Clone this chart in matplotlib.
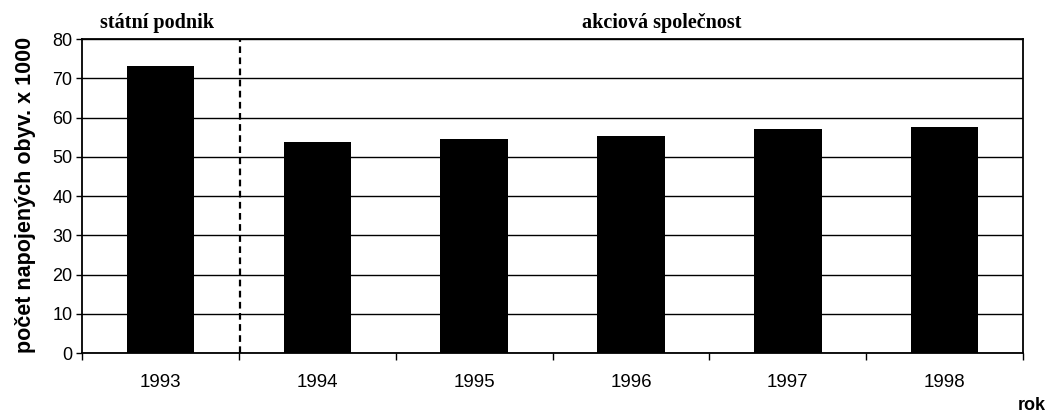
import matplotlib.pyplot as plt
import numpy as np

# data
roky = ['1993', '1994', '1995', '1996', '1997', '1998']
obyvatele = [73.1, 53.8, 54.5, 55.3, 57.1, 57.6]  # tisíce napojených obyvatel
y_ticks = [0, 10, 20, 30, 40, 50, 60, 70, 80]

plt.rcParams['font.family'] = ['Liberation Sans', 'DejaVu Sans']
serif = ['Liberation Serif', 'DejaVu Serif']

fig = plt.figure(figsize=(10.52, 4.16), dpi=100)
ax = fig.add_axes([0.078, 0.1514, 0.8945, 0.7548])

x = np.arange(len(roky))
ax.bar(x, obyvatele, width=0.43, color='black', zorder=3)

ax.set_xlim(-0.5, len(roky) - 0.5)
ax.set_ylim(0, 80)
ax.set_yticks(y_ticks)
ax.set_yticklabels([str(v) for v in y_ticks], fontsize=13)

# category labels centred, ticks on the category boundaries
ax.set_xticks(x)
ax.set_xticklabels(roky, fontsize=13.5)
ax.tick_params(axis='x', length=0, pad=15)
ax.set_xticks(np.arange(-0.5, len(roky)), minor=True)
ax.tick_params(axis='x', which='minor', length=5, direction='out', width=1)
ax.tick_params(axis='y', length=4, width=1, direction='out', pad=3)

ax.grid(axis='y', color='black', linewidth=1, zorder=1)
for s in ax.spines.values():
    s.set_color('black')
    s.set_linewidth(1.3)

# separator between state enterprise and joint-stock company
ax.axvline(0.51, color='black', linestyle=(0, (3, 2)), linewidth=1.6, zorder=4)

ax.set_ylabel('počet napojených obyv. x 1000', fontsize=15.5, fontweight='bold')
ax.yaxis.set_label_coords(-0.049, 0.505)
fig.text(0.967, 0.004, 'rok', fontsize=13, fontweight='bold', va='bottom')

fig.text(0.095, 0.945, 'státní podnik', fontsize=14.5, fontweight='bold',
         family=serif, va='center')
fig.text(0.553, 0.945, 'akciová společnost', fontsize=14.5, fontweight='bold',
         family=serif, va='center')

fig.savefig('out.png', dpi=100)
